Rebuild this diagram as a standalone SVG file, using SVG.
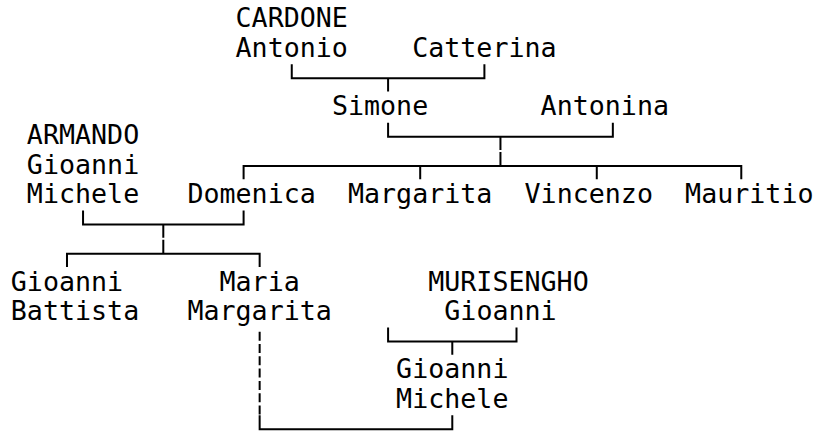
<svg xmlns="http://www.w3.org/2000/svg" width="814" height="432" viewBox="0 0 814 432">
<style>
  text { font-family: "DejaVu Sans Mono", "Liberation Mono", monospace; font-size: 26.667px; fill: #000; }
  .ln { fill: none; stroke: #000; stroke-width: 2; stroke-linecap: butt; stroke-linejoin: miter; }
  .dash { fill: none; stroke: #000; stroke-width: 2; stroke-dasharray: 9 3.3; }
</style>
<rect x="0" y="0" width="814" height="432" fill="#fff"/>
<g id="connectors">
  <path class="ln" d="M291.76,64.3 V78.3 H484.4 V64.3 M388.09,78.3 V91.6"/>
  <path class="ln" d="M388.09,122.8 V136.8 H612.84 V122.8 M500.45,136.8 V150.1"/>
  <path class="ln" d="M243.6,179.35 V166.05 H741.28 V179.35 M420.2,166.05 V179.35 M596.78,166.05 V179.35 M500.45,152.05 V166.05"/>
  <path class="ln" d="M83.05,210.55 V224.55 H243.6 V210.55 M163.3,224.55 V237.85"/>
  <path class="ln" d="M66.99,267.1 V253.8 H259.65 V267.1 M163.3,239.8 V253.8"/>
  <path class="ln" d="M388.09,327.55 V341.55 H516.5 V327.55 M452.29,341.55 V354.85"/>
  <path class="dash" d="M259.65,331.7 V415.3"/>
  <path class="ln" d="M259.65,415.3 V429.3 H452.29 V415.3"/>
</g>
<g id="cardone-antonio"><text x="235.57" y="27.4">CARDONE</text><text x="235.57" y="56.65">Antonio</text></g>
<g id="catterina"><text x="412.18" y="56.65">Catterina</text></g>
<g id="simone"><text x="331.9" y="115.15">Simone</text></g>
<g id="antonina"><text x="540.62" y="115.15">Antonina</text></g>
<g id="armando-gioanni-michele"><text x="26.86" y="144.4">ARMANDO</text><text x="26.86" y="173.65">Gioanni</text><text x="26.86" y="202.9">Michele</text></g>
<g id="domenica"><text x="187.41" y="202.9">Domenica</text></g>
<g id="margarita"><text x="347.96" y="202.9">Margarita</text></g>
<g id="vincenzo"><text x="524.56" y="202.9">Vincenzo</text></g>
<g id="mauritio"><text x="685.11" y="202.9">Mauritio</text></g>
<g id="gioanni-battista"><text x="10.8" y="290.65">Gioanni</text><text x="10.8" y="319.9">Battista</text></g>
<g id="maria-margarita"><text x="219.52" y="290.65">Maria</text><text x="187.41" y="319.9">Margarita</text></g>
<g id="murisengho-gioanni"><text x="428.23" y="290.65">MURISENGHO</text><text x="444.29" y="319.9">Gioanni</text></g>
<g id="gioanni-michele"><text x="396.12" y="378.4">Gioanni</text><text x="396.12" y="407.65">Michele</text></g>
</svg>
